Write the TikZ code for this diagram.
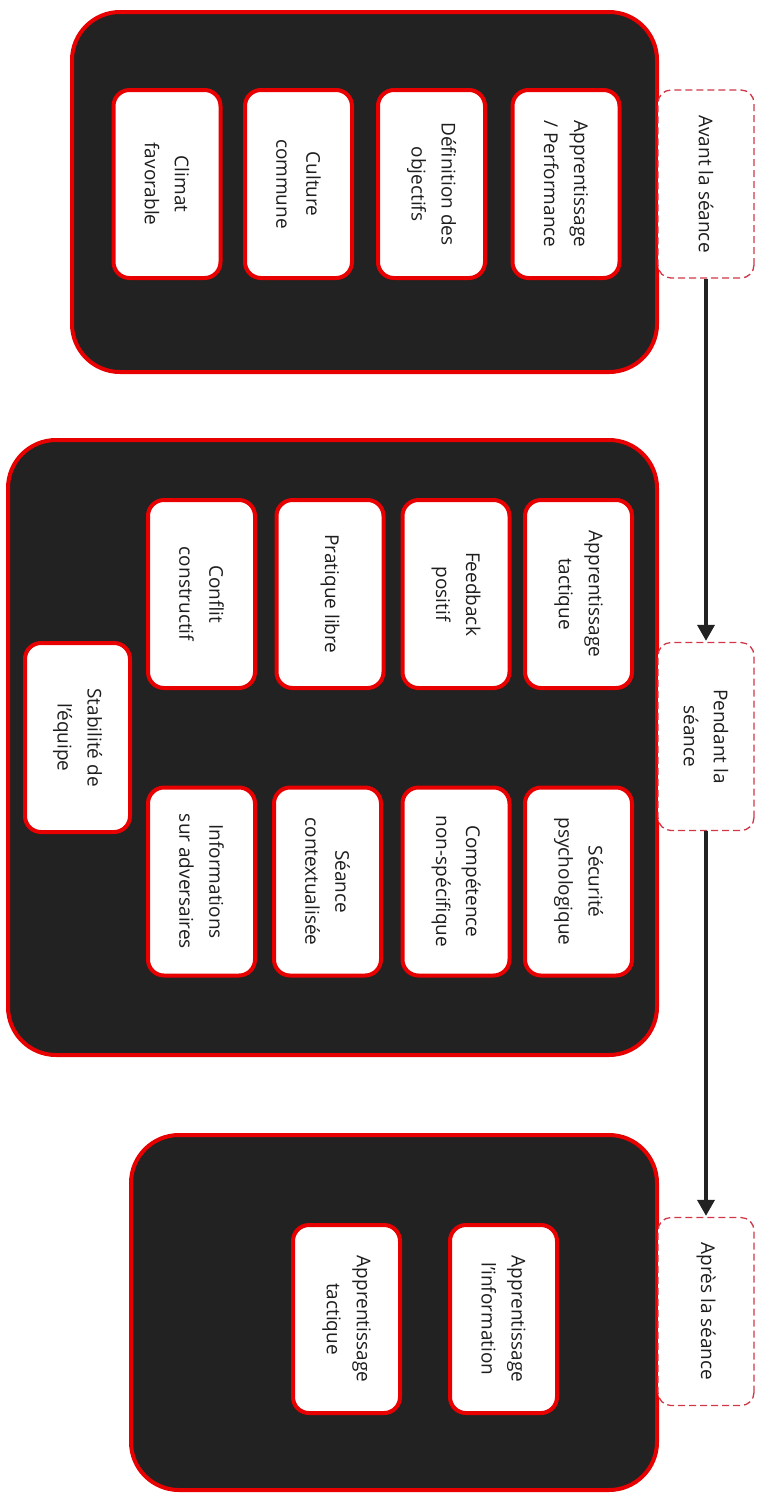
\documentclass[tikz,border=0pt]{standalone}
\usepackage{fontspec}
\setmainfont{Open Sans}
\usetikzlibrary{arrows.meta}
\definecolor{redO}{HTML}{E80000}
\definecolor{blk}{HTML}{222222}
\definecolor{dred}{HTML}{D03848}
\definecolor{txt}{HTML}{1E1E1E}
\newcommand{\itemfont}{\fontsize{19}{30}\selectfont}
\tikzset{
  grp/.style={draw=redO, fill=blk, line width=4pt, rounded corners=48pt, inner sep=0pt},
  item/.style={draw=redO, fill=white, line width=4pt, rounded corners=16pt, rotate=-90,
    align=center, font=\itemfont, text=txt, inner sep=0pt, minimum width=188pt, minimum height=107pt},
  lbl/.style={draw=dred, dash pattern=on 7pt off 4pt, fill=white, line width=1.3pt,
    rounded corners=13pt, rotate=-90, align=center, font=\itemfont, text=txt, inner sep=0pt,
    minimum width=188pt, minimum height=96pt},
  flow/.style={line width=3.5pt, draw=blk, -{Triangle[length=16pt,width=17pt]}, shorten >=1pt}
}
\begin{document}
\begin{tikzpicture}[x=1pt,y=-1pt]
\useasboundingbox (0,0) rectangle (764,1497);
% groups
\node[grp, minimum width=585pt, minimum height=360pt] (g1) at (364.5,192) {};
\node[grp, minimum width=649pt, minimum height=615pt] (g2) at (332.5,747.5) {};
\node[grp, minimum width=526pt, minimum height=355pt] (g3) at (394,1312.5) {};
% phase labels
\node[lbl] (avant) at (706,184) {Avant la séance};
\node[lbl] (pendant) at (706,736.5) {Pendant la\\séance};
\node[lbl] (apres) at (706,1311.5) {Après la séance};
% group 1 items
\node[item] (climat) at (167,184) {Climat\\favorable};
\node[item] (culture) at (298.5,184) {Culture\\commune};
\node[item] (defobj) at (431.5,184) {Définition des\\objectifs};
\node[item] (apperf) at (566,184) {Apprentissage\\/ Performance};
% group 2 items
\node[item] (conflit) at (201.5,594) {Conflit\\constructif};
\node[item] (pratique) at (330,594) {Pratique libre};
\node[item] (feedback) at (456,594) {Feedback\\positif};
\node[item] (apptac1) at (578.5,594) {Apprentissage\\tactique};
\node[item] (infos) at (201.5,881.5) {Informations\\sur adversaires};
\node[item] (seance) at (327.5,881.5) {Séance\\contextualisée};
\node[item] (competence) at (456,881.5) {Compétence\\non-spécifique};
\node[item] (securite) at (578.5,881.5) {Sécurité\\psychologique};
\node[item, minimum height=105pt, minimum width=189pt] (stabilite) at (77.5,737.5) {Stabilité de\\l'équipe};
% group 3 items
\node[item] (apptac2) at (346.5,1319) {Apprentissage\\tactique};
\node[item] (appinfo) at (503.5,1319) {Apprentissage\\l'information};
% flow arrows
\draw[flow] (avant) -- (pendant);
\draw[flow] (pendant) -- (apres);
\end{tikzpicture}
\end{document}
